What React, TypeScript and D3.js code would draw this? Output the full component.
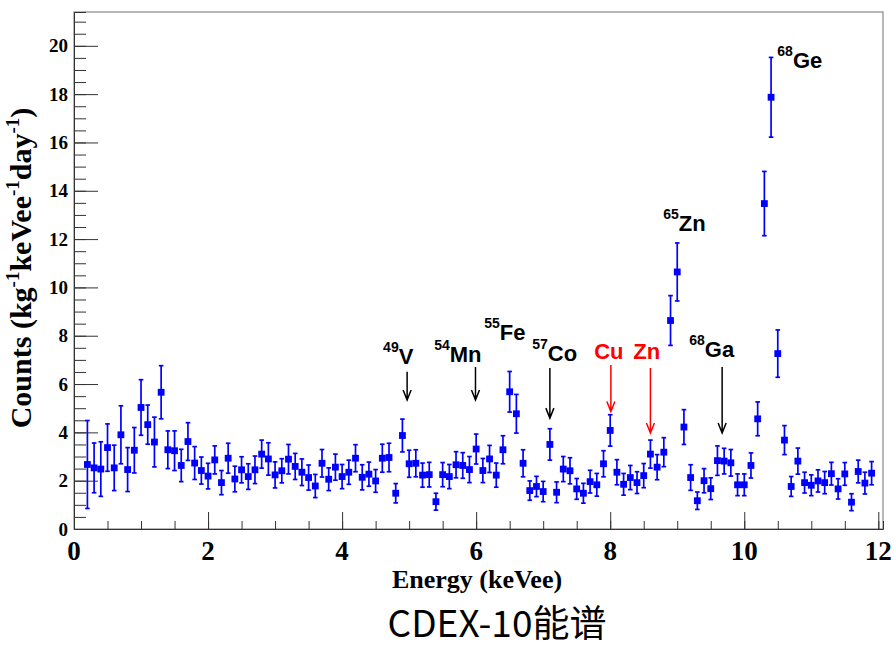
import * as d3 from "d3";
import { useEffect, useRef } from "react";

// bin centres (keVee)
const energies = [
  0.2, 0.3, 0.4, 0.5, 0.6, 0.7, 0.8, 0.9, 1.0, 1.1,
  1.2, 1.3, 1.4, 1.5, 1.6, 1.7, 1.8, 1.9, 2.0, 2.1,
  2.2, 2.3, 2.4, 2.5, 2.6, 2.7, 2.8, 2.9, 3.0, 3.1,
  3.2, 3.3, 3.4, 3.5, 3.6, 3.7, 3.8, 3.9, 4.0, 4.1,
  4.2, 4.3, 4.4, 4.5, 4.6, 4.7, 4.8, 4.9, 5.0, 5.1,
  5.2, 5.3, 5.4, 5.5, 5.6, 5.7, 5.8, 5.9, 6.0, 6.1,
  6.2, 6.3, 6.4, 6.5, 6.6, 6.7, 6.8, 6.9, 7.0, 7.1,
  7.2, 7.3, 7.4, 7.5, 7.6, 7.7, 7.8, 7.9, 8.0, 8.1,
  8.2, 8.3, 8.4, 8.5, 8.6, 8.7, 8.8, 8.9, 9.0, 9.1,
  9.2, 9.3, 9.4, 9.5, 9.6, 9.7, 9.8, 9.9, 10.0, 10.1,
  10.2, 10.3, 10.4, 10.5, 10.6, 10.7, 10.8, 10.9, 11.0, 11.1,
  11.2, 11.3, 11.4, 11.5, 11.6, 11.7, 11.8, 11.9,
];

// counts (kg-1 keVee-1 day-1)
const counts = [
  2.67, 2.53, 2.48, 3.37, 2.53, 3.9, 2.46, 3.26, 5.03, 4.32,
  3.6, 5.66, 3.28, 3.24, 2.63, 3.62, 2.73, 2.42, 2.19, 2.86,
  1.92, 2.93, 2.07, 2.45, 2.17, 2.45, 3.1, 2.9, 2.24, 2.41,
  2.89, 2.59, 2.35, 2.13, 1.78, 2.72, 2.06, 2.56, 2.17, 2.35,
  2.93, 2.14, 2.27, 1.99, 2.93, 2.96, 1.48, 3.87, 2.7, 2.72,
  2.23, 2.25, 1.13, 2.25, 2.17, 2.66, 2.63, 2.46, 3.31, 2.42,
  2.9, 2.23, 3.28, 5.68, 4.77, 2.72, 1.59, 1.76, 1.55, 3.5,
  1.52, 2.48, 2.41, 1.66, 1.48, 1.96, 1.83, 2.7, 4.08, 2.35,
  1.85, 2.13, 1.92, 2.21, 3.1, 2.56, 3.18, 8.63, 10.64, 4.22,
  2.13, 1.17, 2.0, 1.67, 2.83, 2.81, 2.74, 1.83, 1.83, 2.63,
  4.56, 13.47, 17.87, 7.26, 3.68, 1.76, 2.81, 1.92, 1.81, 1.99,
  1.92, 2.29, 1.66, 2.28, 1.11, 2.38, 1.9, 2.31,
];

// statistical errors
const errors = [
  1.82, 1.03, 1.13, 0.98, 0.94, 1.2, 0.91, 0.94, 1.15, 0.81,
  1.03, 1.1, 0.78, 0.82, 0.67, 0.78, 0.68, 0.56, 0.53, 0.58,
  0.5, 0.62, 0.53, 0.54, 0.53, 0.57, 0.58, 0.67, 0.54, 0.5,
  0.61, 0.54, 0.55, 0.52, 0.48, 0.57, 0.47, 0.54, 0.5, 0.5,
  0.56, 0.52, 0.5, 0.47, 0.58, 0.59, 0.4, 0.68, 0.56, 0.56,
  0.5, 0.51, 0.35, 0.5, 0.5, 0.54, 0.53, 0.54, 0.62, 0.5,
  0.56, 0.5, 0.58, 0.84, 0.8, 0.56, 0.4, 0.42, 0.42, 0.65,
  0.43, 0.52, 0.54, 0.43, 0.41, 0.47, 0.47, 0.54, 0.65, 0.52,
  0.45, 0.5, 0.45, 0.5, 0.58, 0.52, 0.6, 1.03, 1.2, 0.72,
  0.53, 0.36, 0.5, 0.45, 0.61, 0.53, 0.55, 0.45, 0.45, 0.52,
  0.7, 1.33, 1.65, 0.98, 0.6, 0.41, 0.54, 0.43, 0.43, 0.46,
  0.46, 0.47, 0.42, 0.47, 0.35, 0.47, 0.45, 0.48,
];

const xTickLabels = [0, 2, 4, 6, 8, 10, 12];
const yTickLabels = [0, 2, 4, 6, 8, 10, 12, 14, 16, 18, 20];

// peak labels: isotope mass, element, label anchor (energy, counts), colour
const peakLabels = [
  { mass: "49", el: "V", e: 4.612, c: 6.83, color: "#000" },
  { mass: "54", el: "Mn", e: 5.373, c: 6.91, color: "#000" },
  { mass: "55", el: "Fe", e: 6.119, c: 7.82, color: "#000" },
  { mass: "57", el: "Co", e: 6.836, c: 6.95, color: "#000" },
  { mass: "", el: "Cu", e: 7.761, c: 7.04, color: "#ff0000" },
  { mass: "", el: "Zn", e: 8.343, c: 7.04, color: "#ff0000" },
  { mass: "68", el: "Ga", e: 9.179, c: 7.12, color: "#000" },
  { mass: "65", el: "Zn", e: 8.791, c: 12.33, color: "#000" },
  { mass: "68", el: "Ge", e: 10.493, c: 19.08, color: "#000" },
];

// arrows: energy, tail counts, tip counts
const peakArrows = [
  { e: 4.97, from: 6.51, to: 5.34, color: "#000" },
  { e: 5.99, from: 6.71, to: 5.34, color: "#000" },
  { e: 7.1, from: 6.66, to: 4.59, color: "#000" },
  { e: 8.01, from: 6.79, to: 4.86, color: "#ff0000" },
  { e: 8.6, from: 6.66, to: 3.97, color: "#ff0000" },
  { e: 9.67, from: 6.71, to: 3.97, color: "#000" },
];

const W = 894;
const H = 649;
const frame = { left: 74, right: 883, top: 12, bottom: 529 };
const serif = "'Liberation Serif', 'Times New Roman', serif";
const sans = "'Liberation Sans', Arial, sans-serif";

const App = () => {
  const ref = useRef<SVGSVGElement>(null);

  useEffect(() => {
    document.body.style.margin = "0";
    const svg = d3.select(ref.current);
    svg.selectAll("*").remove();

    const x = d3.scaleLinear().domain([0, 12.07]).range([frame.left, frame.right]);
    const y = d3.scaleLinear().domain([0, 21.4]).range([frame.bottom, frame.top]);

    svg.append("rect").attr("width", W).attr("height", H).attr("fill", "white");

    // frame
    svg
      .append("rect")
      .attr("x", frame.left)
      .attr("y", frame.top)
      .attr("width", frame.right - frame.left)
      .attr("height", frame.bottom - frame.top)
      .attr("fill", "none")
      .attr("stroke", "#888")
      .attr("stroke-width", 1.2);

    // x axis ticks (inward)
    const xMinor = d3.range(0, 12.01, 0.5);
    svg
      .append("g")
      .attr("transform", `translate(0,${frame.bottom})`)
      .call(d3.axisBottom(x).tickValues(xMinor).tickSize(-8).tickFormat(() => ""))
      .call((g) => g.select(".domain").attr("stroke", "#333"));
    svg
      .append("g")
      .attr("transform", `translate(0,${frame.bottom})`)
      .call(d3.axisBottom(x).tickValues(xTickLabels).tickSize(-17).tickFormat(() => ""))
      .call((g) => g.select(".domain").remove());

    // y axis ticks (inward)
    const yMinor = d3.range(0, 21.01, 0.5);
    svg
      .append("g")
      .attr("transform", `translate(${frame.left},0)`)
      .call(d3.axisLeft(y).tickValues(yMinor).tickSize(-12).tickFormat(() => ""))
      .call((g) => g.select(".domain").attr("stroke", "#333"));
    svg
      .append("g")
      .attr("transform", `translate(${frame.left},0)`)
      .call(d3.axisLeft(y).tickValues(yTickLabels).tickSize(-24).tickFormat(() => ""))
      .call((g) => g.select(".domain").remove());

    svg.selectAll(".tick line").attr("stroke", "#333").attr("stroke-width", 1);

    // tick labels
    svg
      .append("g")
      .selectAll("text")
      .data(xTickLabels)
      .enter()
      .append("text")
      .attr("x", (d) => x(d))
      .attr("y", 560)
      .attr("text-anchor", "middle")
      .attr("font-family", serif)
      .attr("font-weight", "bold")
      .attr("font-size", 27)
      .text((d) => d);
    svg
      .append("g")
      .selectAll("text")
      .data(yTickLabels)
      .enter()
      .append("text")
      .attr("x", 68)
      .attr("y", (d) => y(d) + 6.5)
      .attr("text-anchor", "end")
      .attr("font-family", serif)
      .attr("font-weight", "bold")
      .attr("font-size", 19)
      .text((d) => d);

    // axis titles
    svg
      .append("text")
      .attr("x", 477)
      .attr("y", 588)
      .attr("text-anchor", "middle")
      .attr("font-family", serif)
      .attr("font-weight", "bold")
      .attr("font-size", 26)
      .text("Energy (keVee)");

    const yt = svg
      .append("text")
      .attr("transform", "translate(31,268) rotate(-90)")
      .attr("text-anchor", "middle")
      .attr("font-family", serif)
      .attr("font-weight", "bold")
      .attr("font-size", 30);
    const parts: [string, boolean][] = [
      ["Counts (kg", false],
      ["-1", true],
      ["keVee", false],
      ["-1", true],
      ["day", false],
      ["-1", true],
      [")", false],
    ];
    parts.forEach(([t, sup]) => {
      yt.append("tspan")
        .attr("font-size", sup ? 19 : 30)
        .attr("dy", sup ? -12 : 12)
        .text(t);
    });
    yt.select("tspan").attr("dy", 0);

    // error bars
    const pts = energies.map((e, i) => ({ e, c: counts[i], err: errors[i] }));
    const bars = svg.append("g").attr("stroke", "#0000ff").attr("stroke-width", 1.7);
    bars
      .selectAll("line.v")
      .data(pts)
      .enter()
      .append("line")
      .attr("x1", (d) => x(d.e))
      .attr("x2", (d) => x(d.e))
      .attr("y1", (d) => y(d.c - d.err))
      .attr("y2", (d) => y(d.c + d.err));
    ["lo", "hi"].forEach((k) => {
      bars
        .selectAll(`line.${k}`)
        .data(pts)
        .enter()
        .append("line")
        .attr("x1", (d) => x(d.e) - 2.3)
        .attr("x2", (d) => x(d.e) + 2.3)
        .attr("y1", (d) => y(k === "lo" ? d.c - d.err : d.c + d.err))
        .attr("y2", (d) => y(k === "lo" ? d.c - d.err : d.c + d.err));
    });

    // markers
    svg
      .append("g")
      .selectAll("rect")
      .data(pts)
      .enter()
      .append("rect")
      .attr("x", (d) => x(d.e) - 3.4)
      .attr("y", (d) => y(d.c) - 3.4)
      .attr("width", 6.8)
      .attr("height", 6.8)
      .attr("fill", "#0000ff");

    // arrows
    const arr = svg.append("g").attr("fill", "none").attr("stroke-width", 1.5);
    peakArrows.forEach((a) => {
      const ax = x(a.e);
      const y1 = y(a.from);
      const y2 = y(a.to);
      arr
        .append("path")
        .attr("stroke", a.color)
        .attr("d", `M${ax},${y1}V${y2}M${ax - 4},${y2 - 10}L${ax},${y2}L${ax + 4},${y2 - 10}`);
    });

    // peak labels
    peakLabels.forEach((p) => {
      const t = svg
        .append("text")
        .attr("x", x(p.e))
        .attr("y", y(p.c))
        .attr("font-family", sans)
        .attr("font-weight", "bold")
        .attr("fill", p.color);
      if (p.mass) {
        t.append("tspan").attr("font-size", 14).attr("dy", -12).text(p.mass);
        t.append("tspan").attr("font-size", 22).attr("dy", 12).text(p.el);
      } else {
        t.append("tspan").attr("font-size", 22).text(p.el);
      }
    });

    // caption
    svg
      .append("text")
      .attr("x", 497)
      .attr("y", 637)
      .attr("text-anchor", "middle")
      .attr("font-family", "'Noto Sans CJK SC', 'Noto Sans', sans-serif")
      .attr("font-size", 37)
      .text("CDEX-10能谱");
  }, []);

  return <svg ref={ref} width={W} height={H} style={{ display: "block" }} />;
};

export default App;
